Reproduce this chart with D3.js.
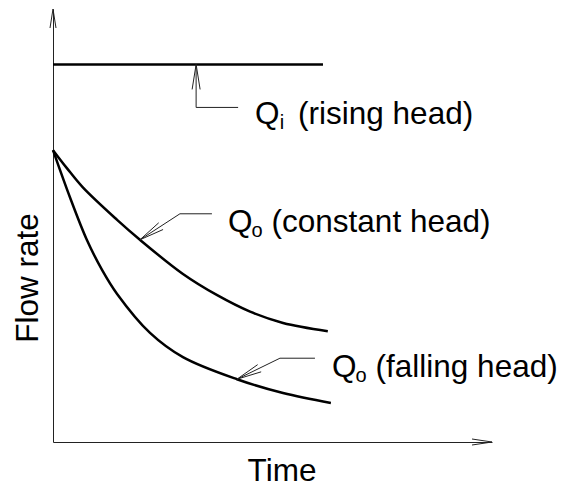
<!DOCTYPE html>
<head>
<meta charset="utf-8">
<title>Flow rate vs time</title>
<style>
body { margin: 0; background: #fff; }
text { font-family: "Liberation Sans", Arial, sans-serif; fill: #000; }
</style>
</head>
<body>
<svg id="chart" width="562" height="488"></svg>
<script src="https://cdn.jsdelivr.net/npm/d3@7/dist/d3.min.js"></script>
<script>
// ---------------- data (time and flow rate in arbitrary units, 0-100) ----------------
var inflowTime = [0, 61.5];
var inflowRate = [87.2, 87.2];

var constantTime = [0, 3.2, 6.8, 14.6, 19.8, 29.6, 37.4, 44.9, 52.4, 62.6];
var constantRate = [67.4, 63.2, 58.8, 51.3, 46.7, 38.8, 33.9, 30.1, 27.5, 25.6];

var fallingTime = [0, 3.9, 7.7, 11.2, 14.6, 22.1, 29.6, 41.9, 52.4, 63.3];
var fallingRate = [67.4, 56.4, 46.7, 39.7, 34.2, 25.2, 19.6, 14.5, 11.3, 9.0];

var xTitle = "Time";
var yTitle = "Flow rate";

// ---------------- svg / scales ----------------
var svg = d3.select("svg");
var x = d3.scaleLinear().domain([0, 100]).range([53, 492]);
var y = d3.scaleLinear().domain([0, 100]).range([442, 9]);

function zip(t, q) {
    return t.map(function (d, i) { return {t: d, q: q[i]}; });
}
var inflow = zip(inflowTime, inflowRate);
var constant = zip(constantTime, constantRate);
var falling = zip(fallingTime, fallingRate);

var line = d3.line()
    .curve(d3.curveCatmullRom.alpha(0.5))
    .x(function (d) { return x(d.t); })
    .y(function (d) { return y(d.q); });

// ---------------- axes (no ticks, just arrows) ----------------
svg.append("g")
    .attr("transform", "translate(0," + y(0) + ")")
    .call(d3.axisBottom(x).ticks(0).tickSizeOuter(0))
    .call(function (g) { g.select(".domain").attr("stroke", "#222"); });
svg.append("g")
    .attr("transform", "translate(" + x(0) + ",0)")
    .call(d3.axisLeft(y).ticks(0).tickSizeOuter(0))
    .call(function (g) { g.select(".domain").attr("stroke", "#222"); });

// open arrowhead: tip point, direction point, length, half width
function arrowHead(tip, from, len, w, color) {
    var dx = from[0] - tip[0], dy = from[1] - tip[1];
    var l = Math.sqrt(dx * dx + dy * dy);
    var ux = dx / l, uy = dy / l;
    var nx = -uy, ny = ux;
    var a = [tip[0] + ux * len + nx * w, tip[1] + uy * len + ny * w];
    var b = [tip[0] + ux * len - nx * w, tip[1] + uy * len - ny * w];
    svg.append("path")
        .attr("d", "M" + a + "L" + tip + "L" + b)
        .attr("fill", "none")
        .attr("stroke", color)
        .attr("stroke-width", 1);
}
arrowHead([x(100), y(0)], [x(0), y(0)], 20, 3, "#222");
arrowHead([x(0), y(100)], [x(0), y(0)], 19, 3, "#222");

// ---------------- curves ----------------
[inflow, constant, falling].forEach(function (s) {
    svg.append("path")
        .datum(s)
        .attr("d", line)
        .attr("fill", "none")
        .attr("stroke", "#000")
        .attr("stroke-width", 2.5);
});

// ---------------- leaders + labels ----------------
function leader(pts) {
    svg.append("path")
        .attr("d", d3.line()(pts))
        .attr("fill", "none")
        .attr("stroke", "#222")
        .attr("stroke-width", 1);
    arrowHead(pts[0], pts[1], 25, 4, "#222");
}

function label(px, py, sub, subDx, restDx, rest) {
    var t = svg.append("text")
        .attr("x", px).attr("y", py)
        .style("font-size", "31.5px");
    t.append("tspan").text("Q");
    t.append("tspan").attr("dx", subDx).attr("dy", 5).style("font-size", "20px").text(sub);
    t.append("tspan").attr("dx", restDx).attr("dy", -5).text(rest);
}

// Qi (rising head)
var p = [x(inflow[0].t + 32.6), y(inflow[0].q)];
leader([p, [p[0], p[1] + 43], [p[0] + 42, p[1] + 43]]);
label(p[0] + 59, p[1] + 60, "i", 0, 14, "(rising head)");

// Qo (constant head)
p = [x(constant[4].t), y(constant[4].q)];
leader([p, [p[0] + 40, p[1] - 26], [p[0] + 72, p[1] - 26]]);
label(p[0] + 88, p[1] - 8, "o", -1, 9, "(constant head)");

// Qo (falling head)
p = [x(falling[7].t), y(falling[7].q)];
leader([p, [p[0] + 43, p[1] - 21], [p[0] + 78, p[1] - 21]]);
label(p[0] + 95, p[1] - 2, "o", -1, 9, "(falling head)");

// ---------------- axis titles ----------------
svg.append("text")
    .attr("x", 282).attr("y", 481)
    .attr("text-anchor", "middle")
    .style("font-size", "31.5px")
    .text(xTitle);
svg.append("text")
    .attr("transform", "translate(38,278) rotate(-90)")
    .attr("text-anchor", "middle")
    .style("font-size", "31.5px")
    .text(yTitle);
</script>
</body>
